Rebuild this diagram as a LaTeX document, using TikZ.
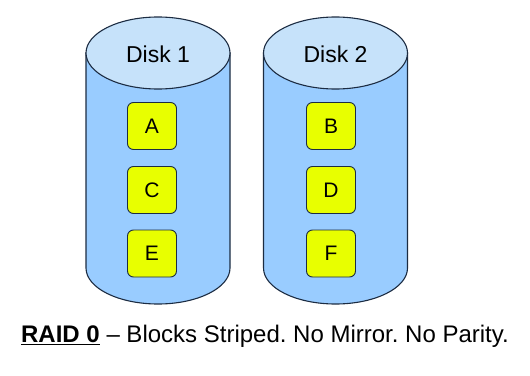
\documentclass[tikz,border=0pt]{standalone}
\usepackage{fontspec}
\setmainfont{Liberation Sans}
\usepackage{tikz}
\usetikzlibrary{positioning}
\frenchspacing

\definecolor{diskbody}{RGB}{153,204,255}
\definecolor{disktop}{RGB}{198,226,250}
\definecolor{blockfill}{RGB}{232,255,0}
\definecolor{edgeblue}{RGB}{28,44,66}

\tikzset{
  disk/.style={draw=edgeblue,line width=1.1pt,fill=diskbody},
  disktopface/.style={draw=edgeblue,line width=1.1pt,fill=disktop},
  blockbox/.style={draw=edgeblue,line width=0.9pt,fill=blockfill,rounded corners=6pt,
    minimum width=49pt,minimum height=47pt,inner sep=0pt,font=\fontsize{21}{24}\selectfont},
  disklabel/.style={font=\fontsize{23}{26}\selectfont}
}

\begin{document}
\begin{tikzpicture}[x=1pt,y=-1pt]
  \useasboundingbox[fill=white] (0,0) rectangle (530,375);

  % Disk 1
  \begin{scope}[xshift=158pt]
    \draw[disk] (-72,53) -- (-72,268) arc[start angle=180,end angle=0,x radius=72,y radius=36] -- (72,53) -- cycle;
    \draw[disktopface] (0,53) ellipse[x radius=72,y radius=36];
    \node[disklabel] (d1) at (0,54) {Disk 1};
    \node[blockbox] (a) at (-6,126) {A};
    \node[blockbox] (c) at (-6,190) {C};
    \node[blockbox] (e) at (-6,253.5) {E};
  \end{scope}

  % Disk 2
  \begin{scope}[xshift=335.5pt]
    \draw[disk] (-72,53) -- (-72,268) arc[start angle=180,end angle=0,x radius=72,y radius=36] -- (72,53) -- cycle;
    \draw[disktopface] (0,53) ellipse[x radius=72,y radius=36];
    \node[disklabel] (d2) at (0,54) {Disk 2};
    \node[blockbox] (b) at (-4.5,126) {B};
    \node[blockbox] (d) at (-4.5,190) {D};
    \node[blockbox] (f) at (-4.5,253.5) {F};
  \end{scope}

  \node[font=\fontsize{24}{28}\selectfont] (caption) at (265,336)
    {\underline{\textbf{RAID 0}} -- Blocks Striped. No Mirror. No Parity.};
\end{tikzpicture}
\end{document}
